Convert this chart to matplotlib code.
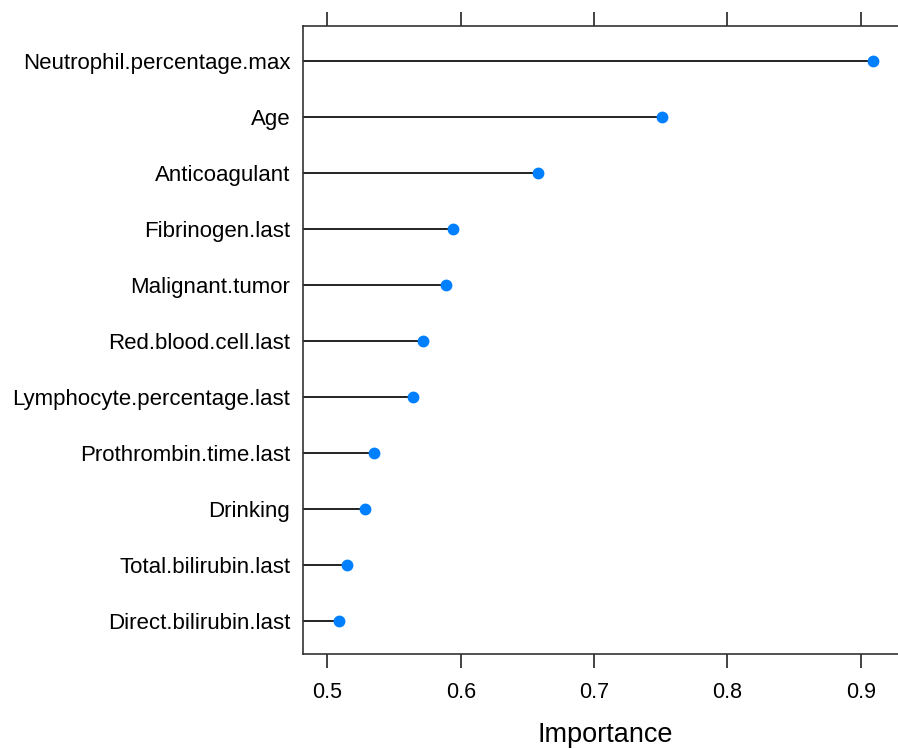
import matplotlib
matplotlib.use("Agg")
import matplotlib.pyplot as plt

features = [
    "Neutrophil.percentage.max",
    "Age",
    "Anticoagulant",
    "Fibrinogen.last",
    "Malignant.tumor",
    "Red.blood.cell.last",
    "Lymphocyte.percentage.last",
    "Prothrombin.time.last",
    "Drinking",
    "Total.bilirubin.last",
    "Direct.bilirubin.last",
]
importance = [0.909, 0.751, 0.658, 0.594, 0.589, 0.572, 0.564, 0.535, 0.528, 0.515, 0.509]
xticks = [0.5, 0.6, 0.7, 0.8, 0.9]
xlabel = "Importance"

plt.rcParams['font.family'] = ['Liberation Sans', 'DejaVu Sans']

fig = plt.figure(figsize=(8.98, 7.49), dpi=100)
ax = fig.add_axes([0.3371, 0.1264, 0.6629, 0.8389])

xmin, xmax = 0.4815, 0.928
n = len(features)
ypos = list(range(n, 0, -1))
ax.hlines(ypos, xmin, importance, color='#111111', linewidth=1.3, zorder=2)
ax.plot(importance, ypos, 'o', color='#0080ff', markersize=7.5, zorder=3)

ax.set_xlim(xmin, xmax)
ax.set_ylim(0.405, n + 0.625)
ax.set_yticks(ypos)
ax.set_yticklabels(features, fontsize=16)
ax.set_xticks(xticks)
ax.set_xticklabels([f"{t:.1f}" for t in xticks], fontsize=15.5)
ax.tick_params(axis='y', length=0, pad=9)
ax.tick_params(axis='x', top=True, bottom=True, labeltop=False, direction='out',
               length=10, width=1.2, pad=10, color='#222222')
for s in ['left', 'top', 'bottom']:
    ax.spines[s].set_linewidth(1.2)
    ax.spines[s].set_color('#333333')
ax.spines['right'].set_visible(False)
ax.set_xlabel(xlabel, fontsize=19.5)
ax.xaxis.set_label_coords(0.509, -0.108)

fig.savefig("out.png", dpi=100)
